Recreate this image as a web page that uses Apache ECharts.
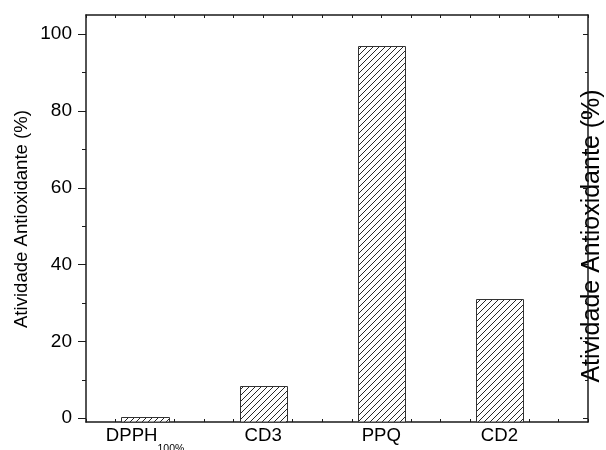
<!DOCTYPE html>
<html>
<head>
<meta charset="utf-8">
<script src="https://cdn.jsdelivr.net/npm/echarts@6/dist/echarts.min.js"></script>
<style>html,body{margin:0;padding:0;background:#fff}#c{width:606px;height:450px}</style>
</head>
<body>
<div id="c"></div>
<script>
const categories = ['DPPH', 'CD3', 'PPQ', 'CD2'];
const subscripts = ['100%', '', '', ''];
const values = [0.2, 8.5, 97, 31];
const yTicks = [0, 20, 40, 60, 80, 100];
const yMinorTicks = [10, 30, 50, 70, 90];
const xPositions = [1, 2, 3, 4];
const yTitle = 'Atividade Antioxidante (%)';

const FONT = '"Liberation Sans", Arial, sans-serif';
const Y_MIN = -1, Y_MAX = 105;
const HALF_W = 0.2;

// hatch pattern
const pc = document.createElement('canvas');
const S = 6;
pc.width = S; pc.height = S;
const g = pc.getContext('2d');
g.fillStyle = '#fff'; g.fillRect(0, 0, S, S);
g.strokeStyle = '#111'; g.lineWidth = 0.9;
g.beginPath();
g.moveTo(-1, S + 1); g.lineTo(S + 1, -1);
g.moveTo(-1, 1); g.lineTo(1, -1);
g.moveTo(S - 1, S + 1); g.lineTo(S + 1, S - 1);
g.stroke();

const axisLine = { show: true, onZero: false, lineStyle: { color: '#1a1a1a', width: 1.5 } };
const tickStyle = { color: '#1a1a1a', width: 1 };

const chart = echarts.init(document.getElementById('c'), null, { renderer: 'canvas' });
chart.setOption({
  animation: false,
  backgroundColor: '#fff',
  grid: { left: 86, right: 18, top: 15, bottom: 28, containLabel: false, outerBoundsMode: 'none' },
  xAxis: [
    {
      type: 'value', position: 'bottom', min: 0.5, max: 4.75, interval: 0.25,
      axisLine: axisLine,
      axisTick: { show: true, inside: true, length: 3, lineStyle: tickStyle },
      splitLine: { show: false },
      axisLabel: {
        customValues: xPositions,
        margin: 4,
        color: '#000',
        fontFamily: FONT,
        formatter: function (v) {
          const i = xPositions.indexOf(Math.round(v));
          if (i < 0) return '';
          return subscripts[i] ? '{a|' + categories[i] + '}{b|' + subscripts[i] + '}' : '{a|' + categories[i] + '}';
        },
        rich: {
          a: { fontSize: 18.6, lineHeight: 22, fontFamily: FONT, color: '#000', verticalAlign: 'top' },
          b: { fontSize: 10.5, lineHeight: 11, fontFamily: FONT, color: '#000', verticalAlign: 'top', padding: [18, 0, 0, 0] }
        }
      }
    },
    {
      type: 'value', position: 'top', min: 0.5, max: 4.75, interval: 0.25,
      axisLine: axisLine,
      axisTick: { show: true, inside: true, length: 3, lineStyle: tickStyle },
      splitLine: { show: false },
      axisLabel: { show: false }
    }
  ],
  yAxis: [
    {
      type: 'value', position: 'left', min: Y_MIN, max: Y_MAX,
      axisLine: axisLine,
      axisTick: { show: true, inside: false, length: 8, customValues: yTicks, lineStyle: tickStyle },
      splitLine: { show: false },
      axisLabel: { show: true, customValues: yTicks, margin: 14, fontSize: 19, fontFamily: FONT, color: '#000' }
    },
    {
      type: 'value', position: 'left', min: Y_MIN, max: Y_MAX,
      axisLine: { show: false },
      axisTick: { show: true, inside: false, length: 4, customValues: yMinorTicks, lineStyle: tickStyle },
      splitLine: { show: false },
      axisLabel: { show: false }
    },
    {
      type: 'value', position: 'right', min: Y_MIN, max: Y_MAX,
      axisLine: axisLine,
      axisTick: { show: true, inside: true, length: 5, customValues: yTicks, lineStyle: tickStyle },
      splitLine: { show: false },
      axisLabel: { show: false }
    },
    {
      type: 'value', position: 'right', min: Y_MIN, max: Y_MAX,
      axisLine: { show: false },
      axisTick: { show: true, inside: true, length: 3, customValues: yMinorTicks, lineStyle: tickStyle },
      splitLine: { show: false },
      axisLabel: { show: false }
    }
  ],
  series: [{
    type: 'custom',
    xAxisIndex: 0,
    yAxisIndex: 0,
    data: xPositions.map((x, i) => [x, values[i]]),
    encode: { x: 0, y: 1 },
    renderItem: function (params, api) {
      const x = api.value(0), v = api.value(1);
      const p1 = api.coord([x - HALF_W, v]);
      const p0 = api.coord([x + HALF_W, Y_MIN]);
      const x0 = Math.round(p1[0]) + 0.5, y0 = Math.round(p1[1]) + 0.5;
      const x1 = Math.round(p0[0]) + 0.5, y1 = Math.round(p0[1]);
      return {
        type: 'rect',
        shape: { x: x0, y: y0, width: x1 - x0, height: y1 - y0 },
        style: { fill: { image: pc, repeat: 'repeat' }, stroke: '#333', lineWidth: 1 }
      };
    }
  }],
  graphic: [
    {
      type: 'text', x: 21.5, y: 219, rotation: Math.PI / 2,
      style: { text: yTitle, font: '18.6px ' + FONT, fill: '#000', align: 'center', verticalAlign: 'middle', textAlign: 'center', textVerticalAlign: 'middle' }
    },
    {
      type: 'text', x: 592, y: 236, rotation: Math.PI / 2,
      style: { text: yTitle, font: '25px ' + FONT, fill: '#000', align: 'center', verticalAlign: 'middle', textAlign: 'center', textVerticalAlign: 'middle' }
    }
  ]
});
</script>
</body>
</html>
